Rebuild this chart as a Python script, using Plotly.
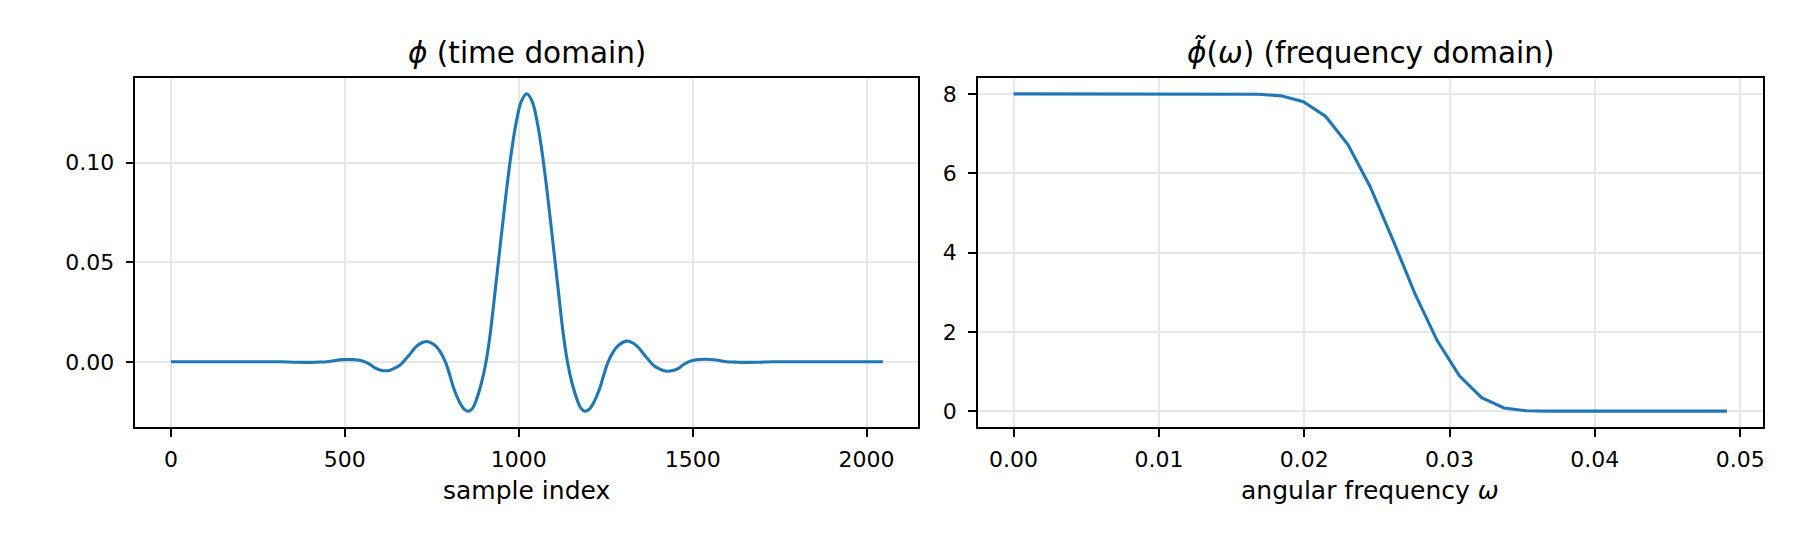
import plotly.graph_objects as go

# ---- data ----
# time domain: sample index and phi value
t_samples = [0, 223, 313, 353, 388, 423, 448, 473, 493, 508, 526, 543, 558, 573, 588,
             603, 618, 630, 643, 656, 668, 686, 705, 723, 737, 758, 773, 789, 801, 813,
             828, 843, 856, 868, 878, 893, 906, 918, 933, 948, 963, 978, 993, 1008, 1023,
             1038, 1053, 1068, 1083, 1098, 1113, 1128, 1140, 1153, 1168, 1178, 1190, 1203,
             1218, 1233, 1245, 1257, 1273, 1288, 1309, 1323, 1341, 1360, 1378, 1390, 1403,
             1416, 1428, 1443, 1458, 1473, 1488, 1503, 1520, 1538, 1553, 1573, 1598, 1623,
             1658, 1693, 1733, 1823, 2047]
t_values = [0.0, 0.0, 0.0, -0.0002, -0.0003, -0.00015, 0.0, 0.0007, 0.0011, 0.0012, 0.0011,
            0.0008, 0.0, -0.0014, -0.0032, -0.0042, -0.0045, -0.0042, -0.0032, -0.0020, 0.0,
            0.0036, 0.0076, 0.0097, 0.0102, 0.0084, 0.0054, 0.0, -0.0062, -0.0133, -0.0196,
            -0.0237, -0.0248, -0.0231, -0.0191, -0.0105, 0.0, 0.0140, 0.0369, 0.0603, 0.0834,
            0.1041, 0.1204, 0.1309, 0.1345,
            0.1309, 0.1204, 0.1041, 0.0834, 0.0603, 0.0369, 0.0140, 0.0, -0.0105, -0.0191,
            -0.0231, -0.0248, -0.0237, -0.0196, -0.0133, -0.0062, 0.0, 0.0054, 0.0084, 0.0104,
            0.0099, 0.0078, 0.0037, 0.0, -0.0021, -0.0034, -0.0044, -0.0047, -0.0044, -0.0034,
            -0.0015, 0.0, 0.0008, 0.0012, 0.0013, 0.0012, 0.0008, 0.0, -0.00015, -0.0003,
            -0.0002, 0.0, 0.0, 0.0]

# frequency domain: angular frequency grid and |phi~| values
w_values = [0.0, 0.00153, 0.00307, 0.00460, 0.00614, 0.00767, 0.00920, 0.01074, 0.01227,
            0.01381, 0.01534, 0.01687, 0.01841, 0.01994, 0.02148, 0.02301, 0.02454, 0.02608,
            0.02761, 0.02915, 0.03068, 0.03221, 0.03375, 0.03528, 0.03682, 0.03835, 0.03988,
            0.04142, 0.04295, 0.04449, 0.04602, 0.04755, 0.04909]
phi_hat = [8.0, 8.0, 8.0, 8.0, 8.0, 8.0, 8.0, 8.0, 8.0, 8.0, 8.0, 7.99, 7.95, 7.80, 7.43, 6.72,
           5.66, 4.34, 2.97, 1.78, 0.89, 0.34, 0.08, 0.01, 0.0, 0.0, 0.0, 0.0, 0.0, 0.0, 0.0,
           0.0, 0.0]

left_xticks = [0, 500, 1000, 1500, 2000]
left_yticks = [0.0, 0.05, 0.10]
left_yticklabels = ["0.00", "0.05", "0.10"]
right_xticks = [0.0, 0.01, 0.02, 0.03, 0.04, 0.05]
right_xticklabels = ["0.00", "0.01", "0.02", "0.03", "0.04", "0.05"]
right_yticks = [0, 2, 4, 6, 8]

titles = ["<i>ϕ</i> (time domain)", "<i>ϕ̃</i>(<i>ω</i>) (frequency domain)"]
xlabels = ["sample index", "angular frequency <i>ω</i>"]

W, H = 1800, 540
BLUE = "#1f77b4"
GRID = "#e7e7e7"
FONT = "DejaVu Sans"

fig = go.Figure()
fig.add_trace(go.Scatter(x=t_samples, y=t_values, mode="lines",
                         line=dict(color=BLUE, width=3.1, shape="spline", smoothing=1.0),
                         xaxis="x", yaxis="y", showlegend=False))
fig.add_trace(go.Scatter(x=w_values, y=phi_hat, mode="lines",
                         line=dict(color=BLUE, width=3.1),
                         xaxis="x2", yaxis="y2", showlegend=False))

top_px, bot_px = 78, 427
ydom = [1 - bot_px / H, 1 - top_px / H]
xdom1 = [135.5 / W, 919.5 / W]
xdom2 = [979.0 / W, 1764.5 / W]

common = dict(showline=True, linecolor="black", linewidth=1.6, mirror=True,
              ticks="outside", ticklen=8, tickwidth=1.6, tickcolor="black",
              showgrid=True, gridcolor=GRID, gridwidth=1.6, zeroline=False,
              tickfont=dict(family=FONT, size=22, color="black"))
xcommon = dict(common, ticklabelstandoff=4)
ycommon = dict(common, ticklabelstandoff=7)

fig.update_layout(
    width=W, height=H, margin=dict(l=0, r=0, t=0, b=0),
    paper_bgcolor="white", plot_bgcolor="white",
    font=dict(family=FONT, color="black"),
    xaxis=dict(domain=xdom1, anchor="y", range=[-102.35, 2149.35],
               tickvals=left_xticks, ticktext=[str(v) for v in left_xticks], **xcommon),
    yaxis=dict(domain=ydom, anchor="x", range=[-0.0327, 0.1424],
               tickvals=left_yticks, ticktext=left_yticklabels, **ycommon),
    xaxis2=dict(domain=xdom2, anchor="y2", range=[-0.002454, 0.051541],
                tickvals=right_xticks, ticktext=right_xticklabels, **xcommon),
    yaxis2=dict(domain=ydom, anchor="x2", range=[-0.4, 8.4],
                tickvals=right_yticks, ticktext=[str(v) for v in right_yticks], **ycommon),
)

for dom, title, xl in [(xdom1, titles[0], xlabels[0]), (xdom2, titles[1], xlabels[1])]:
    cx = (dom[0] + dom[1]) / 2
    fig.add_annotation(x=cx, y=1 - 72 / H, xref="paper", yref="paper",
                       xanchor="center", yanchor="bottom", showarrow=False,
                       text=title, font=dict(family=FONT, size=29.5, color="black"))
    fig.add_annotation(x=cx, y=1 - 490 / H, xref="paper", yref="paper",
                       xanchor="center", yanchor="middle", showarrow=False,
                       text=xl, font=dict(family=FONT, size=25, color="black"))

fig.write_html("out.html", post_script="document.body.style.margin='0px';",
               config={"displayModeBar": False})
